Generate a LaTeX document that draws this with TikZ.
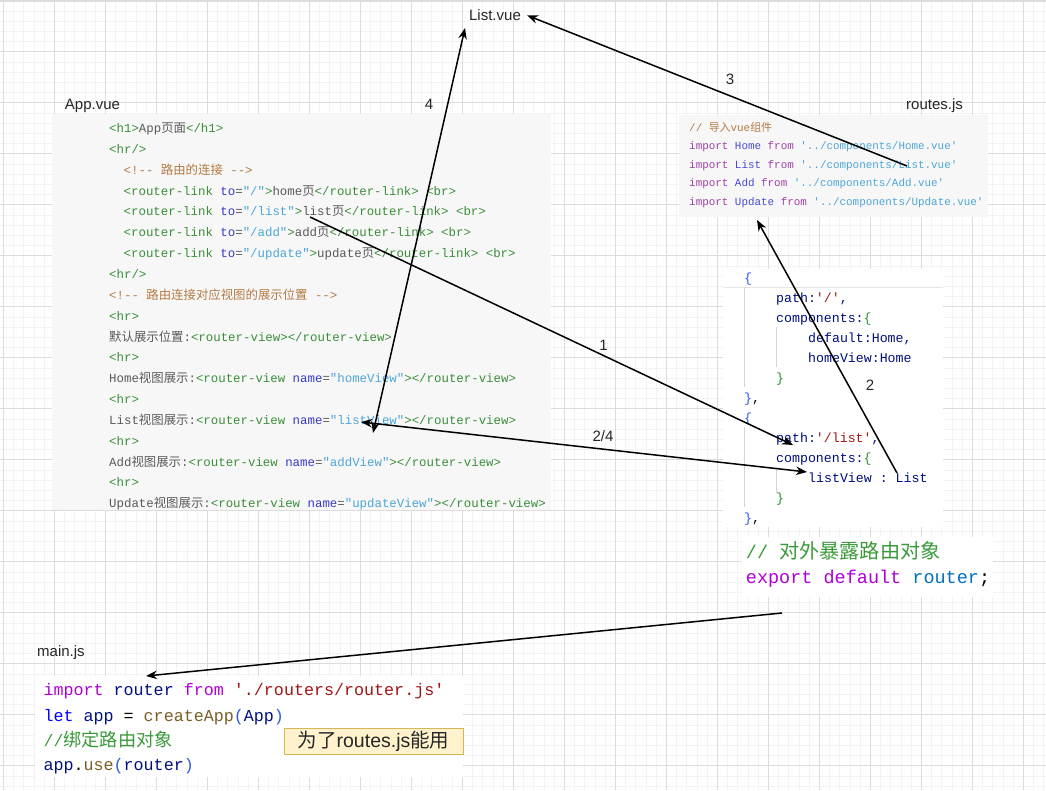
\documentclass[tikz,border=0pt]{standalone}
\usepackage{fontspec}
\setmainfont{Liberation Sans}
\setmonofont{Liberation Mono}
\newfontfamily\cjk{Noto Sans CJK SC}
\newfontfamily\cjkw{Noto Sans CJK SC}[Scale=1.09]
\usetikzlibrary{arrows.meta}

\definecolor{tagc}{HTML}{3A8E3A}
\definecolor{attrc}{HTML}{3939C9}
\definecolor{strc}{HTML}{4DA6D6}
\definecolor{txtc}{HTML}{5A5A5A}
\definecolor{cmtc}{HTML}{B47B45}
\definecolor{kwc}{HTML}{A040A8}
\definecolor{idc}{HTML}{4A4AD8}
\definecolor{brc}{HTML}{2E5BE6}
\definecolor{keyc}{HTML}{001080}
\definecolor{redc}{HTML}{A31515}
\definecolor{grnc}{HTML}{319331}
\definecolor{vsgreen}{HTML}{3A9A3A}
\definecolor{vspurple}{HTML}{AF00DB}
\definecolor{vsblue}{HTML}{0070C1}
\definecolor{vskw}{HTML}{0000FF}
\definecolor{vsfn}{HTML}{795E26}
\definecolor{paper}{HTML}{F7F7F7}
\definecolor{gridlo}{HTML}{F3F3F3}
\definecolor{gridhi}{HTML}{DCDCDC}
\definecolor{guidec}{HTML}{D4D4D4}
\definecolor{notef}{HTML}{FFF2CC}
\definecolor{noted}{HTML}{D6B656}
\definecolor{labc}{HTML}{262626}

\newcommand\zh[1]{{\cjk #1}}
\newcommand\ktag[1]{\textcolor{tagc}{#1}}
\newcommand\kattr[1]{\textcolor{attrc}{#1}}
\newcommand\kstr[1]{\textcolor{strc}{#1}}
\newcommand\ktxt[1]{\textcolor{txtc}{#1}}
\newcommand\kcmt[1]{\textcolor{cmtc}{#1}}

\tikzset{
  >={Stealth[length=11pt,width=8.5pt]},
  lnk/.style={->, line width=1.5pt},
  lnk2/.style={<->, line width=1.5pt},
  lbl/.style={font=\fontsize{15}{18}\selectfont, text=labc, inner sep=3pt},
  appln/.style={anchor=base west, inner sep=0pt, font=\fontsize{12.4}{14}\selectfont\ttfamily},
  impln/.style={anchor=base west, inner sep=0pt, font=\fontsize{10.9}{13}\selectfont\ttfamily},
  rtln/.style={anchor=base west, inner sep=0pt, text=keyc, font=\fontsize{13.25}{16}\selectfont\ttfamily},
  expln/.style={anchor=base west, inner sep=0pt, font=\fontsize{18.5}{22}\selectfont\ttfamily},
  mainln/.style={anchor=base west, inner sep=0pt, text=keyc, font=\fontsize{16.7}{20}\selectfont\ttfamily},
  guide/.style={guidec, line width=0.8pt},
  note/.style={draw=noted, fill=notef, line width=0.8pt, minimum width=179pt, minimum height=26pt, inner sep=0pt, text=labc, font=\fontsize{19.5}{22}\selectfont}
}

\begin{document}
\begin{tikzpicture}[x=1pt,y=-1pt]
\useasboundingbox (0,0) rectangle (1046,790);
\fill[white] (0,0) rectangle (1046,790);

% grid
\foreach \i in {0,...,102} \draw[gridlo, line width=0.8pt] ({3.3+10.2*\i},0) -- ({3.3+10.2*\i},790);
\foreach \j in {0,...,77} \draw[gridlo, line width=0.8pt] (0,{0.7+10.2*\j}) -- (1046,{0.7+10.2*\j});
\foreach \i in {0,...,20} \draw[gridhi, line width=0.8pt] ({3.3+51*\i},0) -- ({3.3+51*\i},790);
\foreach \j in {0,...,15} \draw[gridhi, line width=0.8pt] (0,{0.7+51*\j}) -- (1046,{0.7+51*\j});
\fill[gridhi] (0,0) rectangle (1046,2);

% panels
\fill[paper] (52,114) rectangle (551,510);
\fill[paper] (679,115) rectangle (988,217);
\fill[white] (723,269) rectangle (943,527);
\fill[white] (742,537) rectangle (993,597);
\fill[white] (35,676) rectangle (463,777);

\node[lbl, anchor=base] (listvue) at (495,20.7) {List.vue};
\node[lbl, anchor=base] (appvue) at (92.5,109) {App.vue};
\node[lbl, anchor=base] (routesjs) at (934.5,109) {routes.js};
\node[lbl, anchor=base] (mainjs) at (61,656.7) {main.js};

% App.vue
\node[appln] (app1) at (109,132.5) {\ktag{<h1>}\ktxt{App\zh{页面}}\ktag{</h1>}};
\node[appln] (app2) at (109,153.35) {\ktag{<hr/>}};
\node[appln] (app3) at (123.5,174.2) {\kcmt{<!-- \zh{路由的连接} -->}};
\node[appln] (app4) at (123.5,195.05) {\ktag{<router-link} \kattr{to}\ktxt{=}\kstr{"/"}\ktag{>}\ktxt{home\zh{页}}\ktag{</router-link>} \ktag{<br>}};
\node[appln] (app5) at (123.5,215.9) {\ktag{<router-link} \kattr{to}\ktxt{=}\kstr{"/list"}\ktag{>}\ktxt{list\zh{页}}\ktag{</router-link>} \ktag{<br>}};
\node[appln] (app6) at (123.5,236.75) {\ktag{<router-link} \kattr{to}\ktxt{=}\kstr{"/add"}\ktag{>}\ktxt{add\zh{页}}\ktag{</router-link>} \ktag{<br>}};
\node[appln] (app7) at (123.5,257.6) {\ktag{<router-link} \kattr{to}\ktxt{=}\kstr{"/update"}\ktag{>}\ktxt{update\zh{页}}\ktag{</router-link>} \ktag{<br>}};
\node[appln] (app8) at (109,278.45) {\ktag{<hr/>}};
\node[appln] (app9) at (109,299.3) {\kcmt{<!-- \zh{路由连接对应视图的展示位置} -->}};
\node[appln] (app10) at (109,320.15) {\ktag{<hr>}};
\node[appln] (app11) at (109,341) {\ktxt{\zh{默认展示位置}:}\ktag{<router-view></router-view>}};
\node[appln] (app12) at (109,361.85) {\ktag{<hr>}};
\node[appln] (app13) at (109,382.7) {\ktxt{Home\zh{视图展示}:}\ktag{<router-view} \kattr{name}\ktxt{=}\kstr{"homeView"}\ktag{></router-view>}};
\node[appln] (app14) at (109,403.55) {\ktag{<hr>}};
\node[appln] (app15) at (109,424.4) {\ktxt{List\zh{视图展示}:}\ktag{<router-view} \kattr{name}\ktxt{=}\kstr{"listView"}\ktag{></router-view>}};
\node[appln] (app16) at (109,445.25) {\ktag{<hr>}};
\node[appln] (app17) at (109,466.1) {\ktxt{Add\zh{视图展示}:}\ktag{<router-view} \kattr{name}\ktxt{=}\kstr{"addView"}\ktag{></router-view>}};
\node[appln] (app18) at (109,486.95) {\ktag{<hr>}};
\node[appln] (app19) at (109,507.8) {\ktxt{Update\zh{视图展示}:}\ktag{<router-view} \kattr{name}\ktxt{=}\kstr{"updateView"}\ktag{></router-view>}};

% routes.js imports
\node[impln] (imp0) at (689,131.7) {\kcmt{// \zh{导入}vue\zh{组件}}};
\node[impln] (imp1) at (689,149.3) {\textcolor{kwc}{import} \textcolor{idc}{Home} \textcolor{kwc}{from} \kstr{'../components/Home.vue'}};
\node[impln] (imp2) at (689,168) {\textcolor{kwc}{import} \textcolor{idc}{List} \textcolor{kwc}{from} \kstr{'../components/List.vue'}};
\node[impln] (imp3) at (689,186.7) {\textcolor{kwc}{import} \textcolor{idc}{Add} \textcolor{kwc}{from} \kstr{'../components/Add.vue'}};
\node[impln] (imp4) at (689,205.3) {\textcolor{kwc}{import} \textcolor{idc}{Update} \textcolor{kwc}{from} \kstr{'../components/Update.vue'}};

% routes array
\draw[guidec!60, line width=0.8pt] (723,287.5) -- (943,287.5);
\draw[guide] (744.5,287) -- (744.5,387);
\draw[guide] (776.5,327) -- (776.5,367);
\draw[guide] (744.5,427) -- (744.5,507);
\draw[guide] (776.5,467) -- (776.5,493);
\node[rtln] (rt0) at (744,282.7) {\textcolor{brc}{\{}};
\node[rtln] (rt1) at (776,302.7) {path:\textcolor{redc}{'/'},};
\node[rtln] (rt2) at (776,322.7) {components:\textcolor{grnc}{\{}};
\node[rtln] (rt3) at (808,342.7) {default:Home,};
\node[rtln] (rt4) at (808,362.7) {homeView:Home};
\node[rtln] (rt5) at (776,382.7) {\textcolor{grnc}{\}}};
\node[rtln] (rt6) at (744,402.7) {\textcolor{brc}{\}}\textcolor{black}{,}};
\node[rtln] (rt7) at (744,422.7) {\textcolor{brc}{\{}};
\node[rtln] (rt8) at (776,442.7) {path:\textcolor{redc}{'/list'},};
\node[rtln] (rt9) at (776,462.7) {components:\textcolor{grnc}{\{}};
\node[rtln] (rt10) at (808,482.7) {listView : List};
\node[rtln] (rt11) at (776,502.7) {\textcolor{grnc}{\}}};
\node[rtln] (rt12) at (744,522.7) {\textcolor{brc}{\}}\textcolor{black}{,}};

% export
\node[expln] (exp1) at (745.7,558.3) {\textcolor{vsgreen}{// {\cjkw 对外暴露路由对象}}};
\node[expln] (exp2) at (745.7,583.3) {\textcolor{vspurple}{export default} \textcolor{vsblue}{router}\textcolor{black}{;}};

% main.js
\node[mainln] (main1) at (43.3,695) {\textcolor{vspurple}{import} router \textcolor{vspurple}{from} \textcolor{redc}{'./routers/router.js'}};
\node[mainln] (main2) at (43.3,721) {\textcolor{vskw}{let} app \textcolor{black}{=} \textcolor{vsfn}{createApp}\textcolor{brc}{(}App\textcolor{brc}{)}};
\node[mainln] (main3) at (43.3,746) {\textcolor{vsgreen}{//{\cjkw 绑定路由对象}}};
\node[mainln] (main4) at (43.3,770.7) {app\textcolor{black}{.}\textcolor{vsfn}{use}\textcolor{brc}{(}router\textcolor{brc}{)}};
\node[note] (why) at (373.5,741) {\zh{为了}routes.js\zh{能用}};

% step numbers
\node[lbl] (k1) at (603.5,345.5) {1};
\node[lbl] (k2) at (870,385) {2};
\node[lbl] (k3) at (730,79) {3};
\node[lbl] (k4) at (429,104) {4};
\node[lbl] (k24) at (603,436) {2/4};

\coordinate (lstpg) at (310,217);
\coordinate (pathlist) at (793,445);
\coordinate (lvref) at (897,473);
\coordinate (updimp) at (757,220);
\coordinate (listimp) at (907,166);
\coordinate (lvleft) at (361,422);
\coordinate (lvdown) at (373,433);
\coordinate (lvright) at (807,472);
\coordinate (lvtop) at (465,28);
\coordinate (expr) at (782,613);
\coordinate (mainimp) at (146,676);

\draw[lnk] (lstpg) -- (pathlist);
\draw[lnk] (lvref) -- (updimp);
\draw[lnk] (listimp) -- ([xshift=3pt]listvue.east);
\draw[lnk2] (lvdown) -- (lvtop);
\draw[lnk2] (lvleft) -- (lvright);
\draw[lnk] (expr) -- (mainimp);

\end{tikzpicture}
\end{document}
